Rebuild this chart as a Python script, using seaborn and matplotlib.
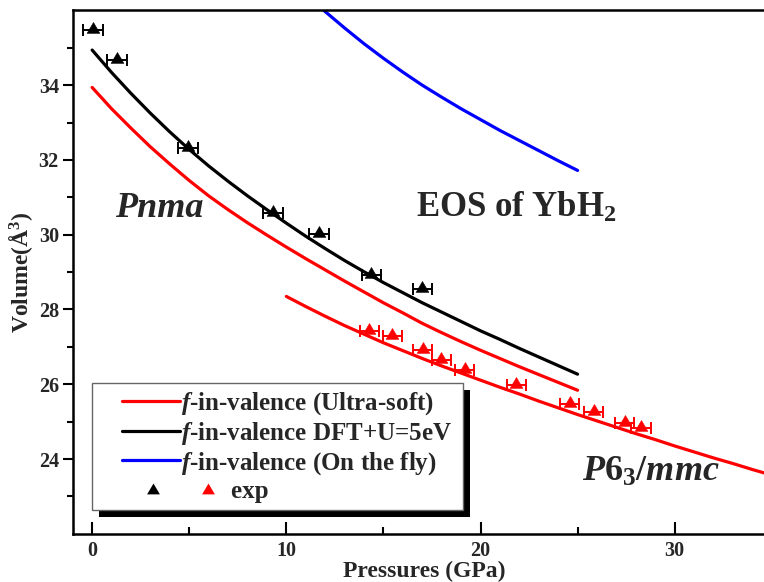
import numpy as np
import matplotlib
matplotlib.use("Agg")
import matplotlib.pyplot as plt
import seaborn as sns
from matplotlib.lines import Line2D
from matplotlib.patches import Rectangle
from matplotlib.path import Path
from matplotlib.markers import MarkerStyle
from matplotlib.legend_handler import HandlerBase, HandlerLine2D
from matplotlib.ticker import FixedLocator

# ---------------- data ----------------
# Pnma phase, calculated EOS curves (pressure in GPa, volume in A^3)
pnma_p = [0, 1, 2, 3, 4, 5, 6, 7, 8, 9, 10, 11, 12, 13, 14, 15, 16, 17, 18, 19,
          20, 21, 22, 23, 24, 25]
pnma_ultrasoft_v = [33.94, 33.37, 32.85, 32.35, 31.89, 31.45, 31.04, 30.67, 30.32,
                    29.99, 29.67, 29.36, 29.06, 28.76, 28.47, 28.18, 27.91, 27.63,
                    27.38, 27.14, 26.91, 26.69, 26.47, 26.26, 26.05, 25.84]
pnma_dftu_v = [34.94, 34.34, 33.78, 33.25, 32.75, 32.28, 31.84, 31.43, 31.04, 30.67,
               30.31, 29.96, 29.63, 29.31, 29.01, 28.72, 28.45, 28.18, 27.93, 27.68,
               27.43, 27.20, 26.96, 26.73, 26.50, 26.27]

# P6_3/mmc phase, calculated EOS curve
hex_p = [10, 11, 12, 13, 14, 15, 16, 17, 18, 19, 20, 21, 22, 23, 24, 25, 26, 27,
         28, 29, 30, 31, 32, 33, 34, 35]
hex_ultrasoft_v = [28.35, 28.08, 27.82, 27.57, 27.34, 27.11, 26.90, 26.69, 26.49,
                   26.30, 26.11, 25.92, 25.74, 25.55, 25.37, 25.19, 25.02, 24.85,
                   24.68, 24.52, 24.35, 24.19, 24.03, 23.88, 23.72, 23.57]

# on-the-fly pseudopotential curve
fly_p = [11.5, 12, 13, 14, 15, 16, 17, 18, 19, 20, 21, 22, 23, 24, 25]
fly_v = [36.20, 35.97, 35.53, 35.11, 34.72, 34.35, 34.00, 33.68, 33.37, 33.08,
         32.79, 32.52, 32.25, 31.98, 31.72]

# experimental points
exp_pnma_p = [0.05, 1.29, 4.94, 9.32, 11.68, 14.38, 17.0]
exp_pnma_v = [35.48, 34.67, 32.31, 30.57, 30.02, 28.93, 28.56]
exp_hex_p = [14.28, 15.46, 17.02, 17.98, 19.18, 21.84, 24.59, 25.82, 27.42, 28.27]
exp_hex_v = [27.42, 27.29, 26.92, 26.65, 26.37, 25.97, 25.48, 25.27, 24.96, 24.82]
p_err = 0.5

labels = ["$f$-in-valence (Ultra-soft)",
          "$f$-in-valence DFT+U=5eV",
          "$f$-in-valence (On the fly)",
          "exp"]

# ---------------- style ----------------
sns.set_theme(style="ticks")
plt.rcParams["font.family"] = ["Liberation Serif", "DejaVu Serif"]
plt.rcParams["font.weight"] = "bold"
plt.rcParams["axes.labelweight"] = "bold"
plt.rcParams["mathtext.fontset"] = "custom"
plt.rcParams["mathtext.rm"] = "Liberation Serif:bold"
plt.rcParams["mathtext.it"] = "Liberation Serif:bold:italic"
plt.rcParams["mathtext.bf"] = "Liberation Serif:bold"

RED, BLACK, BLUE = "#ff0000", "#000000", "#0000ff"
LW = 2.3

# triangle sitting slightly above its anchor, so the error bar runs near its base
tri = MarkerStyle(Path([(-1, -0.45), (1, -0.45), (0, 1.25), (-1, -0.45)], closed=True))
MS = 11.5

fig = plt.figure(figsize=(7.64, 5.82), dpi=100)
ax = fig.add_axes([0.0952, 0.0828, 0.9048, 0.8993])

# curves
sns.lineplot(x=pnma_p, y=pnma_ultrasoft_v, color=RED, lw=LW, ax=ax, sort=False, estimator=None)
sns.lineplot(x=hex_p, y=hex_ultrasoft_v, color=RED, lw=LW, ax=ax, sort=False, estimator=None)
sns.lineplot(x=pnma_p, y=pnma_dftu_v, color=BLACK, lw=LW, ax=ax, sort=False, estimator=None)
sns.lineplot(x=fly_p, y=fly_v, color=BLUE, lw=LW, ax=ax, sort=False, estimator=None)

# experimental points with pressure error bars
for px, pv, c in ((exp_pnma_p, exp_pnma_v, BLACK), (exp_hex_p, exp_hex_v, RED)):
    ax.errorbar(px, pv, xerr=p_err, fmt="none", ecolor=c, elinewidth=1.4,
                capsize=4, capthick=1.4, zorder=3)
    sns.scatterplot(x=px, y=pv, marker=tri, s=MS ** 2, color=c, edgecolor=c,
                    linewidth=0.4, ax=ax, zorder=4, legend=False)

# axes
ax.set_xlim(-1, 34.6)
ax.set_ylim(22, 36)
ax.xaxis.set_major_locator(FixedLocator([0, 10, 20, 30]))
ax.xaxis.set_minor_locator(FixedLocator([5, 15, 25]))
ax.yaxis.set_major_locator(FixedLocator([24, 26, 28, 30, 32, 34]))
ax.yaxis.set_minor_locator(FixedLocator([23, 25, 27, 29, 31, 33, 35]))
ax.tick_params(axis="x", which="major", direction="in", length=8.5, width=1.5,
               labelsize=14.5, pad=5, color="black")
ax.tick_params(axis="x", which="minor", direction="in", length=5, width=1.5, color="black")
ax.tick_params(axis="y", which="major", direction="out", length=7, width=1.5,
               labelsize=14.5, pad=3, color="black")
ax.tick_params(axis="y", which="minor", direction="out", length=4.5, width=1.5, color="black")
for lab in ax.get_xticklabels() + ax.get_yticklabels():
    lab.set_fontweight("bold")
for side in ("left", "bottom", "top"):
    ax.spines[side].set_linewidth(1.8)
    ax.spines[side].set_color("black")
ax.spines["right"].set_visible(False)

ax.set_xlabel("Pressures (GPa)", fontsize=17)
ax.set_ylabel("Volume(Å$^3$)", fontsize=17)
ax.xaxis.set_label_coords(0.508, -0.051)
ax.yaxis.set_label_coords(-0.055, 0.5)

# phase / title annotations
ax.text(3.48, 30.47, "Pnma", fontsize=26, fontstyle="italic", fontweight="bold",
        ha="center", va="baseline")
ax.text(16.66, 30.47, "EOS of YbH$_2$", fontsize=25, fontweight="bold",
        ha="left", va="baseline")
ax.text(25.25, 23.42, "$P$6$_3$/$mmc$", fontsize=26, fontweight="bold",
        ha="left", va="baseline")


# legend handlers
class OffsetLineHandler(HandlerLine2D):
    def get_xdata(self, legend, xdescent, ydescent, width, height, fontsize):
        start = 0.91 * fontsize
        xdata = np.array([start - xdescent, width - xdescent])
        return xdata, xdata


class ExpHandler(HandlerBase):
    def create_artists(self, legend, orig_handle, xdescent, ydescent,
                       width, height, fontsize, trans):
        y = (height - ydescent) / 2
        arts = []
        for xf, c in ((2.16, BLACK), (4.36, RED)):
            m = Line2D([xf * fontsize - xdescent], [y - 0.1 * fontsize], marker=tri,
                       ms=MS, color=c, ls="none", mew=0, transform=trans)
            arts.append(m)
        return arts


h_us = Line2D([], [], color=RED, lw=LW)
h_dft = Line2D([], [], color=BLACK, lw=LW)
h_fly = Line2D([], [], color=BLUE, lw=LW)
h_exp = Line2D([], [], ls="none")

leg_fs = 18
leg = ax.legend([h_us, h_dft, h_fly, h_exp],
                [labels[0], labels[1], labels[2], " " * 8 + labels[3]],
                handler_map={h_us: OffsetLineHandler(), h_dft: OffsetLineHandler(),
                             h_fly: OffsetLineHandler(), h_exp: ExpHandler()},
                loc="upper left", bbox_to_anchor=(0.1204, 0.0, 0.4856, 0.342),
                bbox_transform=fig.transFigure, mode="expand", borderaxespad=0,
                prop={"family": "Liberation Serif", "weight": "bold", "size": leg_fs},
                handlelength=3.24, handletextpad=0.05, labelspacing=0.12,
                borderpad=0.28, frameon=True, fancybox=False, framealpha=1,
                edgecolor="#666666")
leg.get_frame().set_linewidth(1.0)
leg.set_zorder(6)

# black drop shadow behind the legend box
fig.canvas.draw()
bb = leg.get_window_extent()
off = 7.5
shadow = Rectangle((bb.x0 + off, bb.y0 - off), bb.width, bb.height,
                   transform=None, facecolor="black", edgecolor="none",
                   zorder=5.9, clip_on=False)
ax.add_artist(shadow)

fig.savefig("out.png", dpi=100, facecolor="white")
